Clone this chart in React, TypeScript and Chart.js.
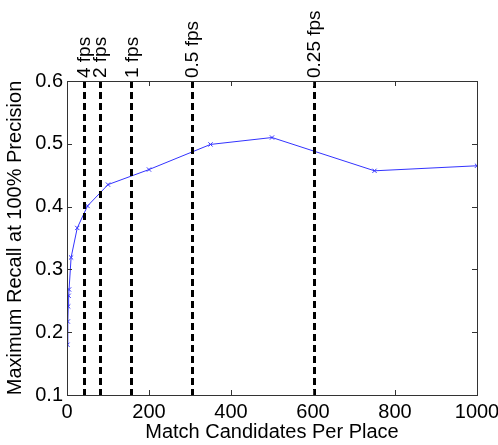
import React, { useEffect, useRef } from "react";
import { Chart, registerables } from "chart.js";

Chart.register(...registerables);

const candidates = [1, 2, 3, 4, 5, 10, 25, 50, 100, 200, 350, 500, 750, 1000];
const recall = [0.18, 0.217, 0.241, 0.258, 0.268, 0.319, 0.366, 0.401, 0.435, 0.459, 0.499, 0.51, 0.457, 0.465];
const fpsPositions = [41, 81, 157, 304, 603];
const fpsLabels = ["4 fps", "2 fps", "1 fps", "0.5 fps", "0.25 fps"];
const xTicks = [0, 200, 400, 600, 800, 1000];
const yTicks = [0.1, 0.2, 0.3, 0.4, 0.5, 0.6];

const FONT = "'Liberation Sans', Arial, sans-serif";

const overlayPlugin = {
  id: "overlay",
  afterDatasetsDraw(chart: any) {
    const { ctx, chartArea } = chart;
    const xs = chart.scales.x;
    const ys = chart.scales.y;
    const { left, right, top, bottom } = chartArea;
    ctx.save();
    ctx.strokeStyle = "#000";
    ctx.lineWidth = 3;
    ctx.setLineDash([7, 4]);
    fpsPositions.forEach((v) => {
      const px = Math.round(xs.getPixelForValue(v)) + 0.5;
      ctx.beginPath();
      ctx.moveTo(px, top);
      ctx.lineTo(px, bottom);
      ctx.stroke();
    });
    ctx.setLineDash([]);
    ctx.strokeStyle = "#333";
    ctx.lineWidth = 1;
    ctx.strokeRect(Math.round(left) + 0.5, Math.round(top) + 0.5, Math.round(right - left), Math.round(bottom - top));
    ctx.beginPath();
    xTicks.forEach((v) => {
      const px = Math.round(xs.getPixelForValue(v)) + 0.5;
      ctx.moveTo(px, bottom);
      ctx.lineTo(px, bottom - 5);
      ctx.moveTo(px, top);
      ctx.lineTo(px, top + 5);
    });
    yTicks.forEach((v) => {
      const py = Math.round(ys.getPixelForValue(v)) + 0.5;
      ctx.moveTo(left, py);
      ctx.lineTo(left + 5, py);
      ctx.moveTo(right, py);
      ctx.lineTo(right - 5, py);
    });
    ctx.stroke();
    ctx.fillStyle = "#000";
    ctx.font = `19px ${FONT}`;
    ctx.textAlign = "left";
    ctx.textBaseline = "middle";
    fpsPositions.forEach((v, i) => {
      const px = xs.getPixelForValue(v) + 1;
      ctx.save();
      ctx.translate(px, top - 3);
      ctx.rotate(-Math.PI / 2);
      ctx.fillText(fpsLabels[i], 0, 0);
      ctx.restore();
    });
    ctx.restore();
  },
};

export default function App() {
  const ref = useRef<HTMLCanvasElement>(null);
  useEffect(() => {
    if (!ref.current) return;
    const chart = new Chart(ref.current, {
      type: "line",
      data: {
        datasets: [
          {
            data: candidates.map((x, i) => ({ x, y: recall[i] })),
            borderColor: "#3333ff",
            backgroundColor: "#3333ff",
            borderWidth: 1,
            pointStyle: "crossRot",
            pointRadius: 3,
            pointBorderWidth: 1,
            tension: 0,
          },
        ],
      },
      options: {
        animation: false,
        responsive: false,
        layout: { padding: { top: 81, right: 21, left: 0, bottom: 0 } },
        plugins: { legend: { display: false }, tooltip: { enabled: false } },
        scales: {
          x: {
            type: "linear",
            min: 0,
            max: 1000,
            afterBuildTicks: (s: any) => {
              s.ticks = xTicks.map((v) => ({ value: v }));
            },
            afterFit: (s: any) => {
              s.height = 50;
              s.paddingLeft = 0;
              s.paddingRight = 0;
            },
            grid: { display: false, drawTicks: false },
            border: { display: false },
            ticks: {
              color: "#000",
              font: { family: FONT, size: 20 },
              padding: 5,
              maxRotation: 0,
              callback: (v: any) => String(v),
            },
            title: {
              display: true,
              text: "Match Candidates Per Place",
              color: "#000",
              font: { family: FONT, size: 20 },
              padding: { top: 0, bottom: 1 },
            },
          },
          y: {
            type: "linear",
            min: 0.1,
            max: 0.6,
            afterBuildTicks: (s: any) => {
              s.ticks = yTicks.map((v) => ({ value: v }));
            },
            afterFit: (s: any) => {
              s.width = 67;
            },
            grid: { display: false, drawTicks: false },
            border: { display: false },
            ticks: {
              color: "#000",
              font: { family: FONT, size: 20 },
              padding: 4,
              callback: (v: any) => Number(v).toFixed(1),
            },
            title: {
              display: true,
              text: "Maximum Recall at 100% Precision",
              color: "#000",
              font: { family: FONT, size: 20 },
              padding: { top: 3, bottom: 0 },
            },
          },
        },
      },
      plugins: [overlayPlugin],
    });
    return () => chart.destroy();
  }, []);
  return (
    <div style={{ position: "fixed", left: 0, top: 0, width: 498, height: 445, background: "#fff" }}>
      <canvas ref={ref} width={498} height={445} style={{ width: 498, height: 445, display: "block" }} />
    </div>
  );
}
